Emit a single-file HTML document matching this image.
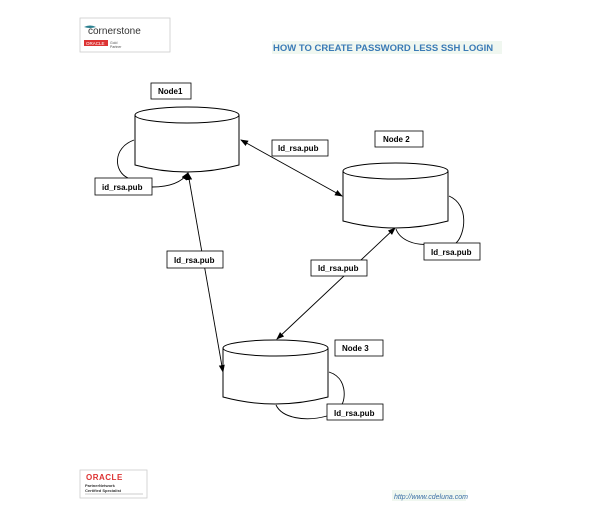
<!DOCTYPE html>
<html><head><meta charset="utf-8"><style>
html,body{margin:0;padding:0;background:#fff;}
svg{display:block;}
text{font-family:"Liberation Sans",sans-serif;}
</style></head><body>
<svg width="600" height="505" viewBox="0 0 600 505" xmlns="http://www.w3.org/2000/svg">
<defs>
<marker id="a" markerWidth="8" markerHeight="8" refX="7" refY="4" orient="auto-start-reverse" markerUnits="userSpaceOnUse">
<path d="M0,1 L8,4 L0,7 Z" fill="#000"/></marker>
</defs>
<!-- logo top -->
<rect x="80" y="18" width="90" height="34" fill="#fff" stroke="#ccc" stroke-width="0.8"/>
<path d="M84,27 q6,-3 12,0 q-6,2 -12,0z" fill="#2a7f8f"/>
<text x="88" y="34" font-size="10" fill="#333" font-family="Liberation Serif,serif">cornerstone</text>
<rect x="84" y="40" width="24" height="6" fill="#d33"/>
<text x="86" y="45" font-size="4.5" fill="#fff">ORACLE</text>
<text x="110" y="44" font-size="3.5" fill="#555">Gold</text>
<text x="110" y="48" font-size="3.5" fill="#555">Partner</text>
<!-- title -->
<rect x="272" y="41" width="230" height="13" fill="#f0f7f0"/>
<text x="273" y="51" font-size="9.5" font-weight="bold" fill="#3b7bb6">HOW TO CREATE PASSWORD LESS SSH LOGIN</text>

<g fill="#fff" stroke="#000" stroke-width="1">
<!-- cylinder 1 -->
<path d="M135,115 L135,165 Q187,179 239,165 L239,115"/>
<ellipse cx="187" cy="115" rx="52" ry="8"/>
<!-- cylinder 2 -->
<path d="M343,171 L343,221 Q395,235 448,221 L448,171"/>
<ellipse cx="395.5" cy="171" rx="52.5" ry="8"/>
<!-- cylinder 3 -->
<path d="M223,348 L223,397 Q275,411 328,397 L328,348"/>
<ellipse cx="275.5" cy="348" rx="52.5" ry="8"/>
</g>

<g fill="none" stroke="#000" stroke-width="0.9">
<!-- loops -->
<path d="M134,140 C112,148 114,172 128,178"/>
<path d="M152,187 C170,187 182,182 188,173" marker-end="url(#a)"/>
<path d="M449,196 C470,205 465,235 456,243"/>
<path d="M430,244 C415,246 400,240 396,229"/>
<path d="M329,372 C348,378 345,400 342,404"/>
<path d="M276,405 C282,418 305,422 327,416"/>
<!-- arrows -->
<line x1="241" y1="140" x2="342" y2="196" marker-start="url(#a)" marker-end="url(#a)"/>
<line x1="188" y1="173" x2="223" y2="372" marker-start="url(#a)" marker-end="url(#a)"/>
<line x1="395" y1="228" x2="277" y2="339" marker-start="url(#a)" marker-end="url(#a)"/>
</g>

<g fill="#fff" stroke="#000" stroke-width="0.8">
<rect x="151" y="83" width="40" height="16"/>
<rect x="375" y="131" width="48" height="16"/>
<rect x="335" y="340" width="48" height="16"/>
<rect x="95" y="178" width="57" height="17"/>
<rect x="272" y="140" width="56" height="16"/>
<rect x="167" y="251" width="56" height="17"/>
<rect x="311" y="260" width="56" height="16"/>
<rect x="424" y="243" width="56" height="17"/>
<rect x="327" y="404" width="56" height="16"/>
</g>
<g font-size="8" font-weight="bold" fill="#000">
<text x="158" y="94">Node1</text>
<text x="383" y="142">Node 2</text>
<text x="342" y="351">Node 3</text>
<text x="102" y="190">id_rsa.pub</text>
<text x="278" y="151">Id_rsa.pub</text>
<text x="174" y="263">Id_rsa.pub</text>
<text x="318" y="271">Id_rsa.pub</text>
<text x="431" y="255">Id_rsa.pub</text>
<text x="334" y="416">Id_rsa.pub</text>
</g>

<!-- oracle logo bottom -->
<rect x="80" y="470" width="67" height="28" fill="#fff" stroke="#ccc" stroke-width="0.8"/>
<text x="86" y="480" font-size="8" fill="#d33" font-weight="bold" letter-spacing="0.5">ORACLE</text>
<text x="85" y="487" font-size="4" fill="#333" font-weight="bold">PartnerNetwork</text>
<text x="85" y="492" font-size="4" fill="#333" font-weight="bold">Certified Specialist</text>
<line x1="85" y1="494" x2="143" y2="494" stroke="#999" stroke-width="0.6"/>
<!-- url -->
<rect x="392" y="490" width="74" height="11" fill="#f0f7f0"/>
<text x="394" y="499" font-size="7" font-style="italic" fill="#3b6fa6">http://www.cdeluna.com</text>
</svg>
</body></html>
